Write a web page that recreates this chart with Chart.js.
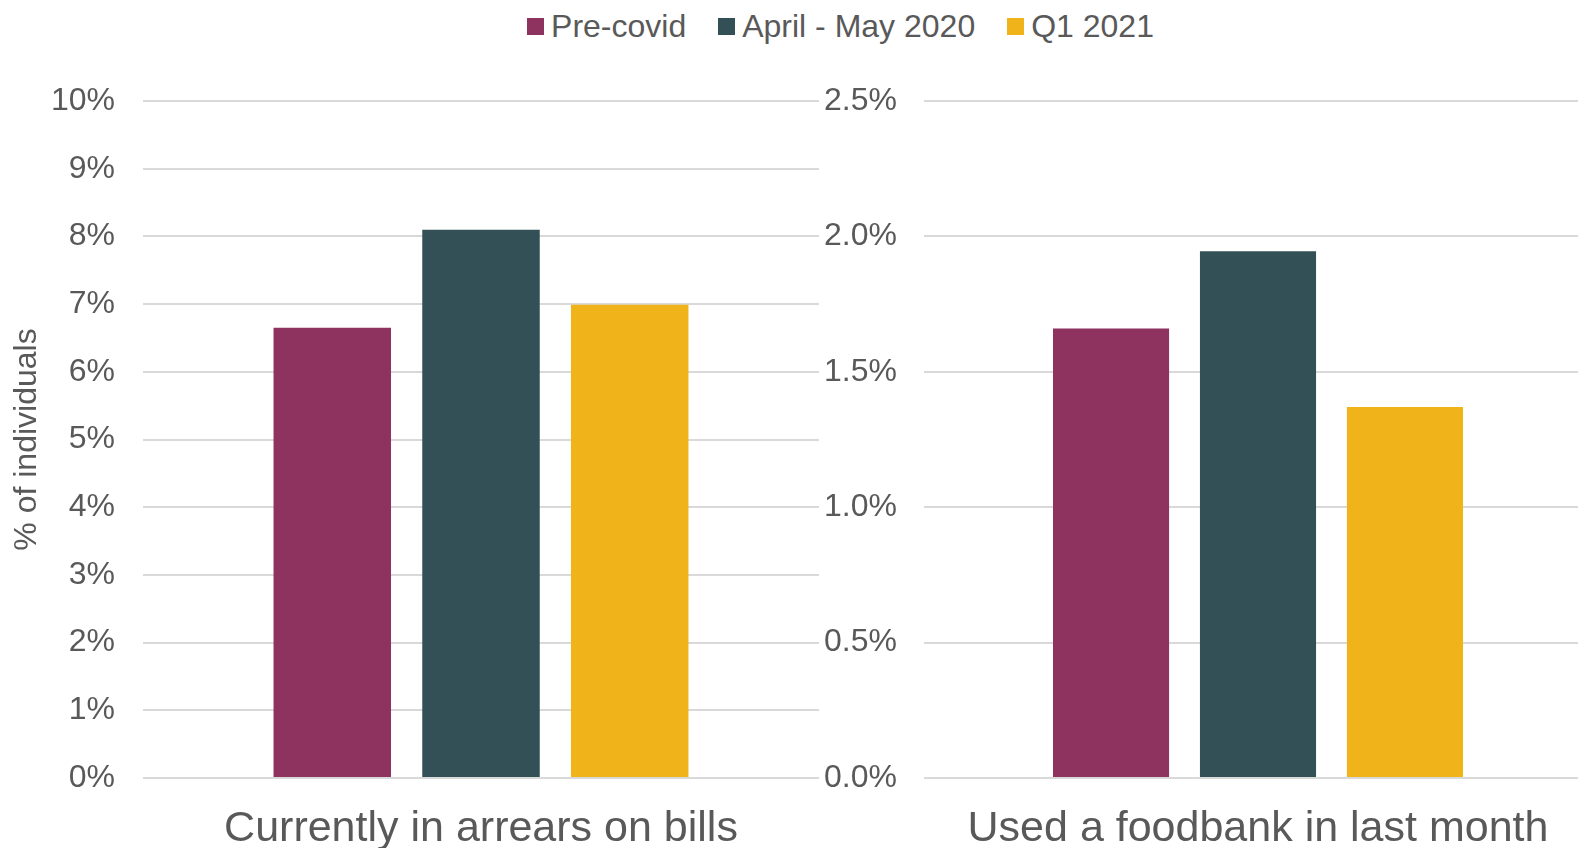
<!DOCTYPE html>
<html>
<head>
<meta charset="utf-8">
<script src="https://cdn.jsdelivr.net/npm/chart.js@4/dist/chart.umd.min.js"></script>
<style>
  html, body { margin: 0; padding: 0; background: #fff; overflow: hidden; }
  body { width: 1578px; height: 848px; position: relative; font-family: 'Liberation Sans', Arial, sans-serif; }
  canvas { position: absolute; top: 0; }
  #legend { position: absolute; top: 8px; left: 0; width: 1681px; display: flex; justify-content: center;
            font-size: 32px; line-height: 36px; color: #595959; }
  .item { display: flex; align-items: center; margin: 0 16px; }
  .swatch { width: 17px; height: 17px; margin-right: 7px; }
</style>
</head>
<body>
<div id="legend"></div>
<canvas id="left" width="820" height="848" style="left:0"></canvas>
<canvas id="right" width="772" height="848" style="left:820px"></canvas>
<script>
// Categories, series and values
const categories = ['Currently in arrears on bills', 'Used a foodbank in last month'];
const seriesNames = ['Pre-covid', 'April - May 2020', 'Q1 2021'];
const arrearsValues = [6.65, 8.10, 6.99];   // % of individuals
const foodbankValues = [1.66, 1.945, 1.37]; // % of individuals
const arrearsAxisMax = 10, arrearsStep = 1;
const foodbankAxisMax = 2.5, foodbankStep = 0.5;

const seriesColors = ['#8E3360', '#335057', '#F0B41A'];
const textColor = '#595959';
const gridColor = '#D9D9D9';
const fontFamily = "'Liberation Sans', Arial, sans-serif";

// Shared legend across both panels
const legend = document.getElementById('legend');
seriesNames.forEach((name, i) => {
  const item = document.createElement('div');
  item.className = 'item';
  const sw = document.createElement('span');
  sw.className = 'swatch';
  sw.style.background = seriesColors[i];
  const tx = document.createElement('span');
  tx.textContent = name;
  item.appendChild(sw);
  item.appendChild(tx);
  legend.appendChild(item);
});

function panel(canvasId, category, values, axisMax, step, decimals, opts) {
  return new Chart(document.getElementById(canvasId), {
    type: 'bar',
    data: {
      labels: [category],
      datasets: seriesNames.map((name, i) => ({
        label: name,
        data: [values[i]],
        backgroundColor: seriesColors[i],
        borderWidth: 0,
        categoryPercentage: 0.66,
        barPercentage: 0.79
      }))
    },
    options: {
      responsive: false,
      animation: false,
      devicePixelRatio: 1,
      layout: { padding: { top: 101, left: 0, right: opts.rightPad, bottom: 0 } },
      plugins: { legend: { display: false }, tooltip: { enabled: false } },
      scales: {
        x: {
          grid: { display: false, drawTicks: false },
          border: { display: false },
          ticks: { color: textColor, font: { family: fontFamily, size: 43 }, padding: 25, maxRotation: 0 },
          afterFit: s => { s.height = 70; }
        },
        y: {
          min: 0,
          max: axisMax,
          grid: { color: gridColor, lineWidth: 2, drawTicks: false },
          border: { display: false },
          ticks: {
            stepSize: step,
            color: textColor,
            padding: opts.tickPad,
            font: { family: fontFamily, size: 32 },
            callback: v => v.toFixed(decimals) + '%'
          },
          title: opts.title ? {
            display: true,
            text: opts.title,
            color: textColor,
            font: { family: fontFamily, size: 32 },
            padding: { top: 8, bottom: 0 }
          } : { display: false },
          afterFit: s => { s.width = opts.axisWidth; }
        }
      }
    }
  });
}

panel('left', categories[0], arrearsValues, arrearsAxisMax, arrearsStep, 0,
      { rightPad: 1, tickPad: 28, axisWidth: 143, title: '% of individuals' });
panel('right', categories[1], foodbankValues, foodbankAxisMax, foodbankStep, 1,
      { rightPad: 0, tickPad: 27, axisWidth: 104, title: null });
</script>
</body>
</html>
